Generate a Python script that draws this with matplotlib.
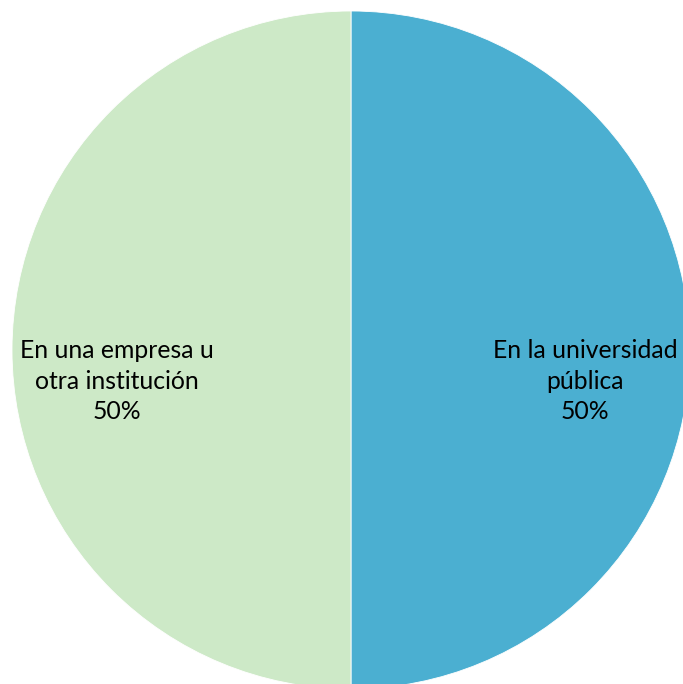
import matplotlib
matplotlib.use("Agg")
import matplotlib.pyplot as plt
import numpy as np

categories = ["En la universidad\npública", "En una empresa u\notra institución"]
values = [50, 50]
colors = ["#4BAFD1", "#CDE9C7"]

plt.rcParams['font.family'] = ['Lato', 'DejaVu Sans']

fig = plt.figure(figsize=(6.83, 6.84), dpi=100)
ax = fig.add_axes([0, 0, 1, 1])
scale = 339.0
cx, cy = 351.0, 350.0

wedges, _ = ax.pie(values, colors=colors, startangle=90, counterclock=False,
                   radius=1.0, center=(0, 0), frame=True,
                   wedgeprops=dict(linewidth=0.6, edgecolor="white"))
ax.set_xlim(-cx / scale, (683 - cx) / scale)
ax.set_ylim(-(684 - cy) / scale, cy / scale)
ax.set_aspect('equal')
ax.axis('off')

total = sum(values)
for w, cat, v in zip(wedges, categories, values):
    ang = np.deg2rad((w.theta1 + w.theta2) / 2)
    x = 0.69 * np.cos(ang)
    y = 0.69 * np.sin(ang) - 0.092
    ax.text(x, y, f"{cat}\n{v / total * 100:.0f}%", ha="center", va="center",
            fontsize=17.8, color="#000000", linespacing=1.38)

fig.savefig("out.png", dpi=100)
